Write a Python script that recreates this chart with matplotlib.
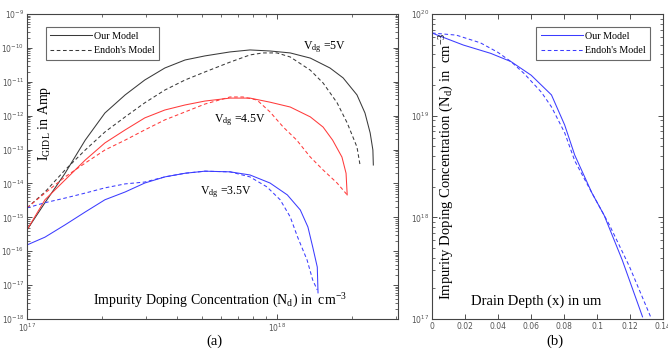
import numpy as np
import matplotlib
matplotlib.use("Agg")
import matplotlib.pyplot as plt
from matplotlib.ticker import LogLocator, NullFormatter

# --- DATA ---
# Panel (a): I_GIDL vs doping concentration
nd_5v = [1.0e17, 1.18e17, 1.42e17, 1.71e17, 2.05e17, 2.47e17, 2.96e17, 3.56e17, 4.29e17,
         5.15e17, 6.49e17, 7.8e17, 9.38e17, 1.13e18, 1.36e18, 1.63e18, 1.84e18, 2.09e18,
         2.25e18, 2.36e18, 2.42e18, 2.43e18]
i_5v = [4.25e-16, 2.7e-15, 2.0e-14, 1.9e-13, 1.2e-12, 4.1e-12, 1.13e-11, 2.55e-11, 4.4e-11,
        5.8e-11, 7.6e-11, 8.7e-11, 8.1e-11, 7.1e-11, 5.0e-11, 2.55e-11, 1.3e-11, 4.1e-12,
        1.2e-12, 3.1e-13, 9.7e-14, 3.5e-14]
nd_5v_e = [1.0e17, 1.18e17, 1.42e17, 1.71e17, 2.05e17, 2.47e17, 2.96e17, 3.56e17, 4.29e17,
           5.15e17, 6.49e17, 7.8e17, 8.79e17, 1.0e18, 1.13e18, 1.36e18, 1.53e18, 1.74e18,
           1.91e18, 2.09e18, 2.15e18]
i_5v_e = [1.9e-15, 5.6e-15, 2.5e-14, 9.7e-14, 3.3e-13, 9.2e-13, 2.4e-12, 5.7e-12, 1.13e-11,
          1.95e-11, 3.8e-11, 6.2e-11, 7.1e-11, 7.1e-11, 5.4e-11, 2.2e-11, 9.2e-12, 2.4e-12,
          6.1e-13, 1.19e-13, 3.5e-14]

nd_45v = [1.0e17, 1.18e17, 1.42e17, 1.71e17, 2.05e17, 2.47e17, 2.96e17, 3.56e17, 4.29e17,
          5.15e17, 6.49e17, 7.8e17, 9.38e17, 1.13e18, 1.36e18, 1.53e18, 1.67e18, 1.82e18,
          1.89e18, 1.91e18]
i_45v = [4.25e-16, 3.3e-15, 1.27e-14, 4.9e-14, 1.57e-13, 3.8e-13, 8.6e-13, 1.47e-12, 2.07e-12,
         2.7e-12, 3.3e-12, 3.3e-12, 2.5e-12, 1.8e-12, 9.2e-13, 4.6e-13, 1.9e-13, 6.0e-14,
         2.0e-14, 4.6e-15]
nd_45v_e = [1.0e17, 1.18e17, 1.42e17, 1.71e17, 2.05e17, 2.47e17, 2.96e17, 3.56e17, 4.29e17,
            5.15e17, 6.49e17, 7.31e17, 8.32e17, 9.38e17, 1.06e18, 1.20e18, 1.36e18, 1.53e18,
            1.74e18, 1.91e18]
i_45v_e = [1.9e-15, 5.2e-15, 1.56e-14, 4.0e-14, 9.7e-14, 1.9e-13, 3.8e-13, 7.5e-13, 1.29e-12,
           2.2e-12, 3.56e-12, 3.56e-12, 2.9e-12, 1.29e-12, 4.6e-13, 1.9e-13, 6.0e-14, 2.5e-14,
           1.03e-14, 4.6e-15]

nd_35v = [1.0e17, 1.18e17, 1.42e17, 1.71e17, 2.05e17, 2.47e17, 2.96e17, 3.56e17, 4.29e17,
          5.15e17, 6.49e17, 7.8e17, 9.38e17, 1.10e18, 1.24e18, 1.33e18, 1.39e18, 1.45e18,
          1.46e18]
i_35v = [1.53e-16, 2.6e-16, 6.0e-16, 1.44e-15, 3.3e-15, 5.6e-15, 1.03e-14, 1.56e-14, 2.0e-14,
         2.3e-14, 2.2e-14, 1.78e-14, 1.03e-14, 4.6e-15, 1.65e-15, 5.2e-16, 1.34e-16, 3.4e-17,
         5.9e-18]
nd_35v_e = [1.0e17, 1.18e17, 1.42e17, 1.71e17, 2.05e17, 2.47e17, 2.96e17, 3.56e17, 4.29e17,
            5.15e17, 6.49e17, 7.8e17, 9.12e17, 1.03e18, 1.13e18, 1.21e18, 1.32e18, 1.39e18,
            1.45e18]
i_35v_e = [1.9e-15, 2.7e-15, 3.7e-15, 5.2e-15, 7.4e-15, 9.7e-15, 1.1e-14, 1.56e-14, 2.0e-14,
           2.3e-14, 2.2e-14, 1.56e-14, 7.9e-15, 3.3e-15, 1.03e-15, 2.6e-16, 5.5e-17, 1.42e-17,
           7.2e-18]

# Panel (b): doping profile vs drain depth
depth_our = [0.0, 0.019, 0.0356, 0.0479, 0.0601, 0.0724, 0.0804, 0.0865, 0.0969, 0.1043,
             0.1153, 0.1276]
nd_our = [6.5e19, 4.95e19, 4.1e19, 3.4e19, 2.5e19, 1.6e19, 8.1e18, 4.1e18, 1.74e18, 1.05e18,
          3.8e17, 1.05e17]
depth_endoh = [0.0, 0.0147, 0.0294, 0.0399, 0.0479, 0.0558, 0.0663, 0.0724, 0.0804, 0.0865,
               0.0969, 0.1074, 0.1196, 0.1325]
nd_endoh = [6.5e19, 6.2e19, 5.2e19, 4.2e19, 3.4e19, 2.6e19, 1.7e19, 1.22e19, 6.8e18, 3.6e18,
            1.74e18, 8.5e17, 3.3e17, 1.05e17]

legend_labels = ["Our Model", "Endoh's Model"]

# --- STYLE ---
SERIF = "Liberation Serif"
C_BLACK = "#3a3a3a"
C_RED = "#ff3b3b"
C_BLUE = "#3c3cff"
LW = 0.75
DASH = (3.5, 2.5)

plt.rcParams["font.family"] = "DejaVu Sans"
plt.rcParams["xtick.direction"] = "in"
plt.rcParams["ytick.direction"] = "in"
plt.rcParams["xtick.top"] = True
plt.rcParams["ytick.right"] = True


def style_axes(ax):
    ax.tick_params(which="both", labelsize=5.5, colors="#333333", labelcolor="#555555", pad=2)
    ax.tick_params(which="major", length=3.5, width=0.6)
    ax.tick_params(which="minor", length=2, width=0.5)
    for s in ax.spines.values():
        s.set_linewidth(0.8)
        s.set_color("#444444")


def add_legend(ax, loc, anchor):
    leg = ax.legend(loc=loc, bbox_to_anchor=anchor, prop={"family": SERIF, "size": 7.2},
                    frameon=True, fancybox=False, edgecolor="#444444", handlelength=4.2,
                    borderpad=0.45, labelspacing=0.55, handletextpad=0.2, borderaxespad=0)
    leg.get_frame().set_linewidth(0.8)
    return leg


fig = plt.figure(figsize=(6.68, 3.52), dpi=100)

# ---------------- panel (a) ----------------
ax1 = fig.add_axes([27 / 668, 1 - 319 / 352, 371 / 668, 305 / 352])
ax1.plot(nd_5v, i_5v, "-", color=C_BLACK, lw=LW, label=legend_labels[0])
ax1.plot(nd_5v_e, i_5v_e, "--", color=C_BLACK, lw=LW, dashes=DASH, label=legend_labels[1])
ax1.plot(nd_45v, i_45v, "-", color=C_RED, lw=LW)
ax1.plot(nd_45v_e, i_45v_e, "--", color=C_RED, lw=LW, dashes=DASH)
ax1.plot(nd_35v, i_35v, "-", color=C_BLUE, lw=LW)
ax1.plot(nd_35v_e, i_35v_e, "--", color=C_BLUE, lw=LW, dashes=DASH)
ax1.set_xscale("log")
ax1.set_yscale("log")
ax1.set_xlim(1e17, 3.05e18)
ax1.set_ylim(1e-18, 1e-9)
ax1.yaxis.set_major_locator(LogLocator(base=10, numticks=20))
ax1.yaxis.set_minor_locator(LogLocator(base=10, subs=np.arange(2, 10), numticks=20))
ax1.yaxis.set_minor_formatter(NullFormatter())
ax1.xaxis.set_minor_formatter(NullFormatter())
style_axes(ax1)
add_legend(ax1, "upper left", (0.05, 0.957))

ax1.text(0.048, 0.64, r"$\mathregular{I_{GIDL}}$ in Amp", transform=ax1.transAxes, rotation=90,
         ha="center", va="center", family=SERIF, fontsize=10)
ax1.text(0.178, 0.045, r"Impurity Doping Concentration ($\mathregular{N_d}$) in  cm$\mathregular{^{-3}}$",
         transform=ax1.transAxes, ha="left", va="baseline", family=SERIF, fontsize=10)
ax1.text(0.745, 0.885, r"V$\mathregular{_{dg}}$ =5V", transform=ax1.transAxes, family=SERIF, fontsize=8.5)
ax1.text(0.505, 0.645, r"V$\mathregular{_{dg}}$ =4.5V", transform=ax1.transAxes, family=SERIF, fontsize=8.5)
ax1.text(0.465, 0.41, r"V$\mathregular{_{dg}}$ =3.5V", transform=ax1.transAxes, family=SERIF, fontsize=8.5)
ax1.text(0.505, -0.072, "(a)", transform=ax1.transAxes, ha="center", va="center", family=SERIF, fontsize=10.5)

# ---------------- panel (b) ----------------
ax2 = fig.add_axes([432 / 668, 1 - 319 / 352, 231 / 668, 305 / 352])
ax2.plot(depth_our, nd_our, "-", color=C_BLUE, lw=LW, label=legend_labels[0])
ax2.plot(depth_endoh, nd_endoh, "--", color=C_BLUE, lw=LW, dashes=DASH, label=legend_labels[1])
ax2.set_yscale("log")
ax2.set_xlim(0, 0.14)
ax2.set_ylim(1e17, 1e20)
ax2.set_xticks(np.arange(0, 0.141, 0.02))
ax2.set_xticklabels(["0", "0.02", "0.04", "0.06", "0.08", "0.1", "0.12", "0.14"])
ax2.yaxis.set_minor_formatter(NullFormatter())
style_axes(ax2)
add_legend(ax2, "upper right", (0.944, 0.957))

ax2.text(0.065, 0.5, r"Impurity Doping Concentration ($\mathregular{N_d}$) in  cm$\mathregular{^{-3}}$",
         transform=ax2.transAxes, rotation=90, ha="center", va="center", family=SERIF, fontsize=10.5)
ax2.text(0.17, 0.045, "Drain Depth (x) in um", transform=ax2.transAxes, ha="left", va="baseline",
         family=SERIF, fontsize=10.5)
ax2.text(0.532, -0.072, "(b)", transform=ax2.transAxes, ha="center", va="center", family=SERIF, fontsize=10.5)

fig.savefig("out.png", dpi=100)
